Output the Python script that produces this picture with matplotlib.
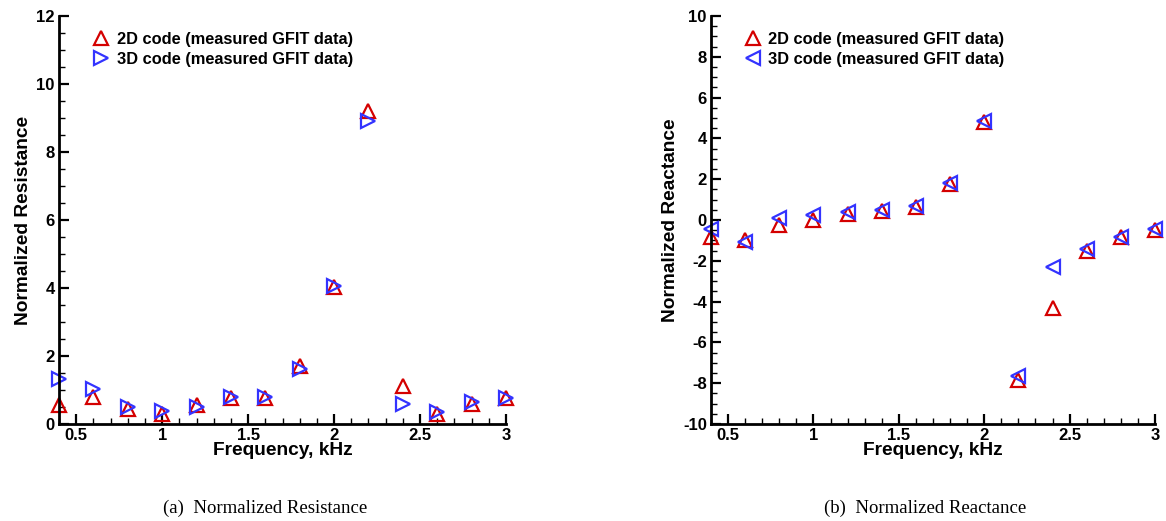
import matplotlib
matplotlib.use("Agg")
import matplotlib.pyplot as plt
from matplotlib.ticker import MultipleLocator, FuncFormatter

freq = [0.4, 0.6, 0.8, 1.0, 1.2, 1.4, 1.6, 1.8, 2.0, 2.2, 2.4, 2.6, 2.8, 3.0]

res_2d = [0.56, 0.78, 0.43, 0.30, 0.55, 0.75, 0.75, 1.70, 4.04, 9.20, 1.12, 0.30, 0.60, 0.75]
res_3d = [1.31, 1.02, 0.49, 0.38, 0.50, 0.78, 0.78, 1.62, 4.07, 8.90, 0.60, 0.36, 0.64, 0.77]

reac_2d = [-0.85, -1.00, -0.25, 0.00, 0.30, 0.45, 0.65, 1.75, 4.80, -7.85, -4.30, -1.50, -0.85, -0.50]
reac_3d = [-0.45, -1.10, 0.10, 0.25, 0.40, 0.50, 0.70, 1.80, 4.87, -7.65, -2.30, -1.40, -0.85, -0.45]

label_2d = "2D code (measured GFIT data)"
label_3d = "3D code (measured GFIT data)"

RED = "#d40000"
BLUE = "#3333ff"
SANS = "Liberation Sans"
SERIF = "Liberation Serif"


def style_axes(ax, ylim, ymajor, yminor, ylabel):
    ax.set_xlim(0.4, 3.0)
    ax.set_ylim(*ylim)
    for side in ("top", "right"):
        ax.spines[side].set_visible(False)
    for side in ("left", "bottom"):
        ax.spines[side].set_linewidth(2.0)
    ax.xaxis.set_major_locator(MultipleLocator(0.5))
    ax.xaxis.set_minor_locator(MultipleLocator(0.1))
    ax.yaxis.set_major_locator(MultipleLocator(ymajor))
    ax.yaxis.set_minor_locator(MultipleLocator(yminor))
    ax.xaxis.set_major_formatter(FuncFormatter(lambda v, p: f"{v:g}"))
    ax.yaxis.set_major_formatter(FuncFormatter(lambda v, p: f"{v:g}"))
    ax.tick_params(which="major", direction="in", length=7, width=1.6,
                   labelsize=12, pad=3)
    ax.tick_params(which="minor", direction="in", length=4, width=1.0)
    for t in ax.get_xticklabels() + ax.get_yticklabels():
        t.set_fontfamily(SANS)
        t.set_fontweight("bold")
    ax.set_xlabel("Frequency, kHz", fontsize=13.8, fontweight="bold",
                  family=SANS, labelpad=-1)
    ax.set_ylabel(ylabel, fontsize=13.8, fontweight="bold", family=SANS,
                  labelpad=3)


fig = plt.figure(figsize=(11.66, 5.21), dpi=100)
ax1 = fig.add_axes([0.0506, 0.1862, 0.3834, 0.7831])
ax2 = fig.add_axes([0.6098, 0.1862, 0.3808, 0.7831])

mk = dict(linestyle="none", markersize=10.5, markerfacecolor="none",
          markeredgewidth=1.6, clip_on=False)

ax1.plot(freq, res_2d, marker="^", color=RED, label=label_2d, **mk)
ax1.plot(freq, res_3d, marker=">", color=BLUE, label=label_3d, **mk)
style_axes(ax1, (0, 12), 2, 0.5, "Normalized Resistance")

ax2.plot(freq, reac_2d, marker="^", color=RED, label=label_2d, **mk)
ax2.plot(freq, reac_3d, marker="<", color=BLUE, label=label_3d, **mk)
style_axes(ax2, (-10, 10), 2, 0.5, "Normalized Reactance")

for ax in (ax1, ax2):
    ax.legend(loc="upper left", bbox_to_anchor=(0.05, 0.985), frameon=False,
              prop=dict(family=SANS, weight="bold", size=11.8),
              handletextpad=0.35, labelspacing=0.3, handlelength=1.2,
              borderaxespad=0.2)

fig.text(265 / 1166, 1 - 508 / 521, "(a)  Normalized Resistance",
         family=SERIF, fontsize=13.5, ha="center", va="center")
fig.text(925 / 1166, 1 - 508 / 521, "(b)  Normalized Reactance",
         family=SERIF, fontsize=13.5, ha="center", va="center")

fig.savefig("out.png", dpi=100)
